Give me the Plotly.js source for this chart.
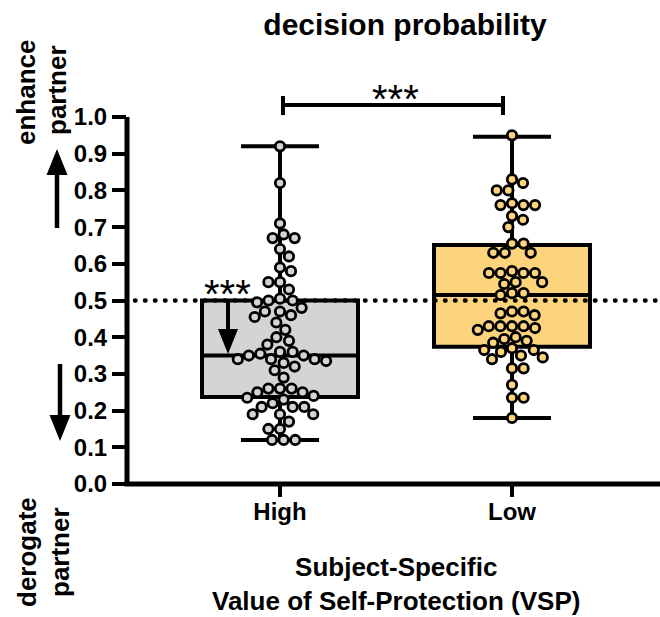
<!DOCTYPE html>
<html>
<head>
<meta charset="utf-8">
<script src="https://cdn.plot.ly/plotly-3.0.1.min.js"></script>
<style>
  html, body { margin: 0; padding: 0; background: #fff; }
  #chart { width: 660px; height: 617px; }
  #chart path.js-line { stroke-linecap: round; }
</style>
</head>
<body>
<div id="chart"></div>
<script>
// ---------------- data ----------------
const categories = ['High', 'Low'];

const highValues = [
  0.92, 0.82, 0.71, 0.68, 0.67, 0.67, 0.64, 0.62, 0.59, 0.58,
  0.55, 0.55, 0.53, 0.505, 0.50, 0.495, 0.50, 0.48, 0.47, 0.47,
  0.46, 0.455, 0.44, 0.42, 0.40, 0.39, 0.38, 0.36, 0.355, 0.35,
  0.36, 0.35, 0.34, 0.34, 0.33, 0.335, 0.34, 0.32, 0.31, 0.29,
  0.26, 0.26, 0.25, 0.26, 0.25, 0.24, 0.235, 0.23, 0.21, 0.21,
  0.21, 0.22, 0.19, 0.19, 0.19, 0.17, 0.15, 0.15, 0.12, 0.12, 0.12
];

const lowValues = [
  0.95, 0.83, 0.82, 0.80, 0.80, 0.765, 0.76, 0.76, 0.76, 0.73,
  0.72, 0.70, 0.655, 0.655, 0.63, 0.63, 0.63, 0.575, 0.575, 0.58,
  0.575, 0.575, 0.55, 0.55, 0.545, 0.52, 0.515, 0.52, 0.47, 0.465,
  0.46, 0.47, 0.43, 0.425, 0.42, 0.43, 0.43, 0.43, 0.395, 0.39,
  0.40, 0.385, 0.365, 0.36, 0.365, 0.37, 0.345, 0.35, 0.34, 0.315,
  0.315, 0.27, 0.235, 0.235, 0.18
];

const q1Values     = [0.237, 0.374];
const medianValues = [0.350, 0.515];
const q3Values     = [0.500, 0.651];
const minValues    = [0.120, 0.180];
const maxValues    = [0.920, 0.946];

const yTickValues = [0, 0.1, 0.2, 0.3, 0.4, 0.5, 0.6, 0.7, 0.8, 0.9, 1.0];
const chanceLevel = 0.5;

// ---------------- geometry / style ----------------
const FONT = 'Liberation Sans, Arial, Helvetica, sans-serif';
const W_TOTAL = 660, H_TOTAL = 617;
const L = 127, T = 117, R = 0, B = H_TOTAL - 484;
const PW = W_TOTAL - L - R, PH = H_TOTAL - T - B;
const UNIT = 232;                       // px per category step
const X0 = 280;                         // px of first category
const xRange = [(L - X0) / UNIT, (W_TOTAL - R - X0) / UNIT];
const yRange = [0, 1];
const pxPerX = PW / (xRange[1] - xRange[0]);
const pxPerY = PH / (yRange[1] - yRange[0]);

const fills = ['#d4d4d4', '#fdd37c'];
const boxWidth = 156 / UNIT;

// pixel -> paper helpers for decorations
const PX = p => (p - L) / PW;
const PY = p => (T + PH - p) / PH;

// ---------------- beeswarm offsets ----------------
function swarm(vals, D) {
  const order = vals.map((v, i) => i).sort((a, b) => vals[b] - vals[a]);
  const placed = [];
  const off = new Array(vals.length).fill(0);
  for (const i of order) {
    const y = vals[i] * pxPerY;
    const near = placed.filter(p => Math.abs(p.y - y) < D);
    const cands = [0];
    for (const p of near) {
      const dx = Math.sqrt(D * D - (p.y - y) * (p.y - y));
      cands.push(p.x + dx, p.x - dx);
    }
    cands.sort((a, b) => Math.abs(a) - Math.abs(b));
    let best = 0;
    for (const c of cands) {
      if (near.every(p => (p.x - c) ** 2 + (p.y - y) ** 2 >= D * D - 1e-6)) { best = c; break; }
    }
    placed.push({ x: best, y: y });
    off[i] = best / pxPerX;
  }
  return off;
}

const groups = [highValues, lowValues];
const traces = [];

groups.forEach((vals, g) => {
  traces.push({
    type: 'box',
    x: [g],
    q1: [q1Values[g]],
    median: [medianValues[g]],
    q3: [q3Values[g]],
    lowerfence: [minValues[g]],
    upperfence: [maxValues[g]],
    width: boxWidth,
    whiskerwidth: 0.5,
    fillcolor: fills[g],
    line: { color: '#000', width: 4 },
    boxpoints: false,
    hoverinfo: 'skip',
    showlegend: false
  });
});

// dotted reference line at chance level
traces.push({
  type: 'scatter',
  mode: 'lines',
  x: [(135 - X0) / UNIT, (656 - X0) / UNIT],
  y: [chanceLevel, chanceLevel],
  line: { color: '#000', width: 4.5, dash: '0.5px,9.5px' },
  hoverinfo: 'skip',
  showlegend: false
});

groups.forEach((vals, g) => {
  const off = swarm(vals, 11.6);
  traces.push({
    type: 'scatter',
    mode: 'markers',
    x: vals.map((v, i) => g + off[i]),
    y: vals,
    marker: { size: 9.4, color: fills[g], line: { color: '#000', width: 2.8 } },
    cliponaxis: false,
    hoverinfo: 'skip',
    showlegend: false
  });
});

// ---------------- decorations ----------------
const inArrowX = (228 - X0) / UNIT;
const headHalf = 10 / UNIT;
const shapes = [
  // axis lines
  { type: 'line', xref: 'paper', yref: 'paper', x0: PX(124.5), x1: 1, y0: 0, y1: 0, line: { color: '#000', width: 5 } },
  { type: 'line', xref: 'paper', yref: 'paper', x0: 0, x1: 0, y0: 0, y1: 1, line: { color: '#000', width: 5 } },
  // significance bracket
  { type: 'line', xref: 'paper', yref: 'paper', x0: PX(283), x1: PX(503), y0: PY(105), y1: PY(105), line: { color: '#000', width: 4 } },
  { type: 'line', xref: 'paper', yref: 'paper', x0: PX(283), x1: PX(283), y0: PY(96), y1: PY(115), line: { color: '#000', width: 4 } },
  { type: 'line', xref: 'paper', yref: 'paper', x0: PX(503), x1: PX(503), y0: PY(96), y1: PY(115), line: { color: '#000', width: 4 } },
  // arrow inside High box (0.5 -> median)
  { type: 'line', xref: 'x', yref: 'y', x0: inArrowX, x1: inArrowX, y0: chanceLevel, y1: (484 - 332) / PH, line: { color: '#000', width: 4 } },
  { type: 'path', xref: 'x', yref: 'y',
    path: `M ${inArrowX - headHalf} ${(484 - 329) / PH} L ${inArrowX + headHalf} ${(484 - 329) / PH} L ${inArrowX} ${(484 - 354) / PH} Z`,
    fillcolor: '#000', line: { width: 0 } },
  // left up arrow
  { type: 'line', xref: 'paper', yref: 'paper', x0: PX(57), x1: PX(57), y0: PY(228), y1: PY(172), line: { color: '#000', width: 4.5 } },
  { type: 'path', xref: 'paper', yref: 'paper',
    path: `M ${PX(46.5)} ${PY(175)} L ${PX(67.5)} ${PY(175)} L ${PX(57)} ${PY(149)} Z`,
    fillcolor: '#000', line: { width: 0 } },
  // left down arrow
  { type: 'line', xref: 'paper', yref: 'paper', x0: PX(60), x1: PX(60), y0: PY(364), y1: PY(418), line: { color: '#000', width: 4.5 } },
  { type: 'path', xref: 'paper', yref: 'paper',
    path: `M ${PX(49.5)} ${PY(415)} L ${PX(70.5)} ${PY(415)} L ${PX(60)} ${PY(441)} Z`,
    fillcolor: '#000', line: { width: 0 } }
];

const boldFont = (size) => ({ family: FONT, size: size, color: '#000', weight: 'bold' });
const annotations = [
  { text: '***', xref: 'paper', yref: 'paper', x: PX(395), y: PY(99), xanchor: 'center', yanchor: 'middle',
    showarrow: false, font: { family: FONT, size: 40, color: '#000' } },
  { text: '***', xref: 'paper', yref: 'paper', x: PX(227), y: PY(294), xanchor: 'center', yanchor: 'middle',
    showarrow: false, font: { family: FONT, size: 40, color: '#000' } },
  { text: 'enhance', xref: 'paper', yref: 'paper', x: PX(26), y: PY(92), xanchor: 'center', yanchor: 'middle',
    textangle: -90, showarrow: false, font: boldFont(26) },
  { text: 'partner', xref: 'paper', yref: 'paper', x: PX(57), y: PY(90), xanchor: 'center', yanchor: 'middle',
    textangle: -90, showarrow: false, font: boldFont(26) },
  { text: 'derogate', xref: 'paper', yref: 'paper', x: PX(27), y: PY(552), xanchor: 'center', yanchor: 'middle',
    textangle: -90, showarrow: false, font: boldFont(26) },
  { text: 'partner', xref: 'paper', yref: 'paper', x: PX(60), y: PY(552), xanchor: 'center', yanchor: 'middle',
    textangle: -90, showarrow: false, font: boldFont(26) },
  { text: 'Subject-Specific<br>Value of Self-Protection (VSP)', xref: 'paper', yref: 'paper',
    x: PX(396), y: PY(584), xanchor: 'center', yanchor: 'middle', showarrow: false, font: boldFont(26) }
];

const layout = {
  width: W_TOTAL,
  height: H_TOTAL,
  margin: { l: L, r: R, t: T, b: B, pad: 0 },
  paper_bgcolor: '#fff',
  plot_bgcolor: '#fff',
  showlegend: false,
  boxmode: 'overlay',
  title: {
    text: 'decision probability',
    font: boldFont(30),
    xref: 'container', yref: 'container',
    x: 405 / W_TOTAL, xanchor: 'center',
    y: 1 - 24 / H_TOTAL, yanchor: 'middle'
  },
  xaxis: {
    range: xRange,
    tickmode: 'array',
    tickvals: [0, 1],
    ticktext: categories,
    ticks: 'outside', ticklen: 12, tickwidth: 4, tickcolor: '#000',
    ticklabelstandoff: -6,
    tickfont: boldFont(24),
    showline: false, showgrid: false, zeroline: false,
    fixedrange: true
  },
  yaxis: {
    range: yRange,
    tickmode: 'array',
    tickvals: yTickValues,
    tickformat: '.1f',
    ticks: 'outside', ticklen: 14, tickwidth: 4, tickcolor: '#000',
    tickfont: boldFont(24),
    showline: false, showgrid: false, zeroline: false,
    fixedrange: true
  },
  shapes: shapes,
  annotations: annotations
};

Plotly.newPlot('chart', traces, layout, { displayModeBar: false, staticPlot: true });
</script>
</body>
</html>
